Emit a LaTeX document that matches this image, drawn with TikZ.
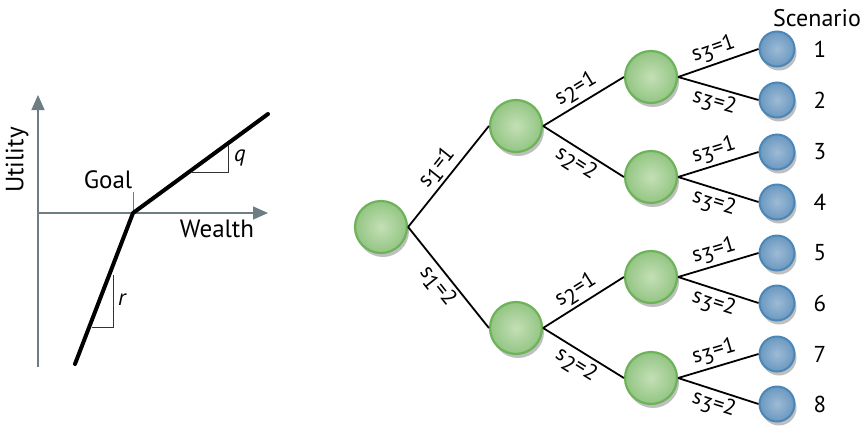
\documentclass[tikz,border=0pt]{standalone}
\usepackage{fontspec}
\setmainfont{PT Sans}
\usetikzlibrary{arrows.meta,shadows}
\definecolor{axisgray}{HTML}{6E7C84}
\definecolor{gin}{HTML}{C4DFB6}
\definecolor{gout}{HTML}{93C583}
\definecolor{gbor}{HTML}{6DB35A}
\definecolor{bin}{HTML}{9DBBD6}
\definecolor{bout}{HTML}{6B98C0}
\definecolor{bbor}{HTML}{4A87B8}
\tikzset{
  axis/.style={draw=axisgray, line width=1.5pt, -{Triangle[length=15pt,width=13pt]}},
  curve/.style={line width=4pt, line cap=round, line join=round},
  tri/.style={draw=black!80, line width=0.9pt},
  lbl/.style={font=\fontsize{25}{27}\selectfont, inner sep=0pt},
  green/.style={circle, minimum size=52pt, inner sep=0pt, shading=radial, inner color=gin, outer color=gout, draw=gbor, line width=2.2pt, drop shadow={shadow xshift=2pt, shadow yshift=-4pt, opacity=0.25, fill=black}},
  blue/.style={circle, minimum size=35pt, inner sep=0pt, shading=radial, inner color=bin, outer color=bout, draw=bbor, line width=2pt, drop shadow={shadow xshift=2pt, shadow yshift=-4pt, opacity=0.25, fill=black}},
  br/.style={line width=1.8pt},
  el/.style={font=\fontsize{22}{24}\selectfont, midway, sloped, inner sep=3pt},
  num/.style={font=\fontsize{23}{25}\selectfont, inner sep=0pt}
}
\newcommand{\sv}[2]{s\raisebox{-0.45ex}{#1}=#2}
\begin{document}
\begin{tikzpicture}[x=1pt,y=-1pt]
\useasboundingbox (0,0) rectangle (860,429);
% ---------- left plot
\coordinate (o) at (38,367);
\coordinate (ytop) at (38,95);
\coordinate (xl) at (38,213);
\coordinate (xr) at (268,213);
\coordinate (k) at (133,213);
\coordinate (ue) at (268,114);
\coordinate (le) at (75,364);
\coordinate (gt) at (133,192);
\draw[axis] (o) -- (ytop);
\draw[axis] (xl) -- (xr);
\draw[axisgray, line width=1pt] (gt) -- (k);
\draw[curve] (le) -- (k) -- (ue);
\coordinate (q1) at (192,172);
\coordinate (q2) at (228,172);
\coordinate (q3) at (228,145);
\draw[tri] (q1) -- (q2) -- (q3);
\coordinate (r1) at (113,275);
\coordinate (r2) at (113,327);
\coordinate (r3) at (92,327);
\draw[tri] (r1) -- (r2) -- (r3);
\node[lbl] (goal) at (108,180) {Goal};
\node[lbl] (wealth) at (217,229) {Wealth};
\node[lbl, rotate=90] (util) at (17,160) {Utility};
\node[lbl, font=\fontsize{23}{24}\selectfont\itshape] (q) at (240,158) {q};
\node[lbl, font=\fontsize{23}{24}\selectfont\itshape] (r) at (122,300) {r};
% ---------- tree
\node[green] (n0) at (381,227) {};
\node[green] (n1) at (516,126) {};
\node[green] (n2) at (516,328) {};
\node[green] (n11) at (651,77) {};
\node[green] (n12) at (651,177) {};
\node[green] (n21) at (651,277) {};
\node[green] (n22) at (651,378) {};
\foreach \i/\y in {1/49,2/100,3/152,4/202,5/253,6/303,7/354,8/404}{
  \node[blue] (l\i) at (777,\y) {};
  \node[num] (t\i) at (820,\y) {\i};
}
\node[num, font=\fontsize{24}{25}\selectfont] (scen) at (817,18) {Scenario};
\draw[br] (n0.east) -- node[el, above] {\sv{1}{1}} (n1.west);
\draw[br] (n0.east) -- node[el, below] {\sv{1}{2}} (n2.west);
\foreach \p in {1,2}{
  \draw[br] (n\p.east) -- node[el, above] {\sv{2}{1}} (n\p1.west);
  \draw[br] (n\p.east) -- node[el, below] {\sv{2}{2}} (n\p2.west);
}
\draw[br] (n11.east) -- node[el, above] {\sv{3}{1}} (l1.west);
\draw[br] (n11.east) -- node[el, below] {\sv{3}{2}} (l2.west);
\draw[br] (n12.east) -- node[el, above] {\sv{3}{1}} (l3.west);
\draw[br] (n12.east) -- node[el, below] {\sv{3}{2}} (l4.west);
\draw[br] (n21.east) -- node[el, above] {\sv{3}{1}} (l5.west);
\draw[br] (n21.east) -- node[el, below] {\sv{3}{2}} (l6.west);
\draw[br] (n22.east) -- node[el, above] {\sv{3}{1}} (l7.west);
\draw[br] (n22.east) -- node[el, below] {\sv{3}{2}} (l8.west);
\end{tikzpicture}
\end{document}
